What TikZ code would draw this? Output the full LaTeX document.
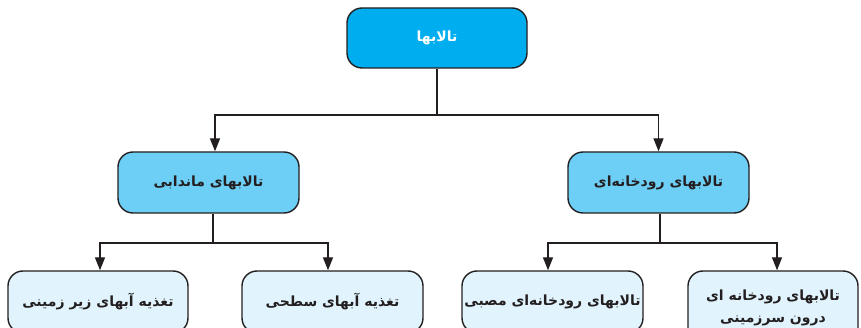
\documentclass[tikz,border=0pt]{standalone}
\usepackage{fontspec}
\usetikzlibrary{arrows.meta}
\TeXXeTstate=1
\newfontfamily\arabicfont[Script=Arabic]{DejaVu Sans}
\definecolor{rootfill}{HTML}{00AEEF}
\definecolor{midfill}{HTML}{6DCFF6}
\definecolor{leaffill}{HTML}{E1F4FD}
\definecolor{inkline}{HTML}{231F20}
\tikzset{
  box/.style={draw=inkline, line width=1.4pt, rounded corners=15pt, minimum height=61pt,
    inner sep=0pt, align=center, font=\arabicfont\bfseries\fontsize{14}{22}\selectfont, text=inkline},
  rootbox/.style={box, fill=rootfill, minimum width=180pt, minimum height=60pt, text=white},
  midbox/.style={box, fill=midfill, minimum width=181pt},
  leafbox/.style={box, fill=leaffill, minimum height=62pt},
  link/.style={draw=inkline, line width=1.4pt},
  arrowlink/.style={link, -{Triangle[width=10pt,length=13pt]}}
}
\begin{document}
\begin{tikzpicture}[x=1pt,y=-1pt]
\useasboundingbox (0,0) rectangle (861,328);
\clip (0,0) rectangle (861,328);
\fill[white] (0,0) rectangle (861,328);

% root
\node[rootbox] (root) at (437,38) {\beginR تالابها\endR};

% second level
\node[midbox] (mid1) at (208.5,182.5) {\beginR تالابهای ماندابی\endR};
\node[midbox] (mid2) at (658.5,182.5) {\beginR تالابهای رودخانه^^^^200cای\endR};

% leaves (their lower edges run past the page)
\node[leafbox, minimum width=180pt] (leaf1) at (98,302) {\beginR تغذیه آبهای زیر زمینی\endR};
\node[leafbox, minimum width=181pt] (leaf2) at (332.5,302) {\beginR تغذیه آبهای سطحی\endR};
\node[leafbox, minimum width=181pt] (leaf3) at (552.5,302) {\beginR تالابهای رودخانه^^^^200cای مصبی\endR};
\node[leafbox, minimum width=170pt, minimum height=74pt] (leaf4) at (773,308) {\beginR تالابهای رودخانه ای\endR\\\beginR درون سرزمینی\endR};

% junctions
\coordinate (j0) at (437,115);
\coordinate (j1) at (213,243);
\coordinate (j2) at (660,243);

% connectors
\draw[link] (root.south) -- (j0);
\draw[arrowlink] (j0) -| ([xshift=6.5pt]mid1.north);
\draw[arrowlink] (j0) -| (mid2.north);
\draw[link] ([xshift=4.5pt]mid1.south) -- (j1);
\draw[arrowlink] (j1) -| ([xshift=2pt]leaf1.north);
\draw[arrowlink] (j1) -| ([xshift=-4.5pt]leaf2.north);
\draw[link] ([xshift=1.5pt]mid2.south) -- (j2);
\draw[arrowlink] (j2) -| ([xshift=-4.5pt]leaf3.north);
\draw[arrowlink] (j2) -| ([xshift=4pt]leaf4.north);
\end{tikzpicture}
\end{document}
